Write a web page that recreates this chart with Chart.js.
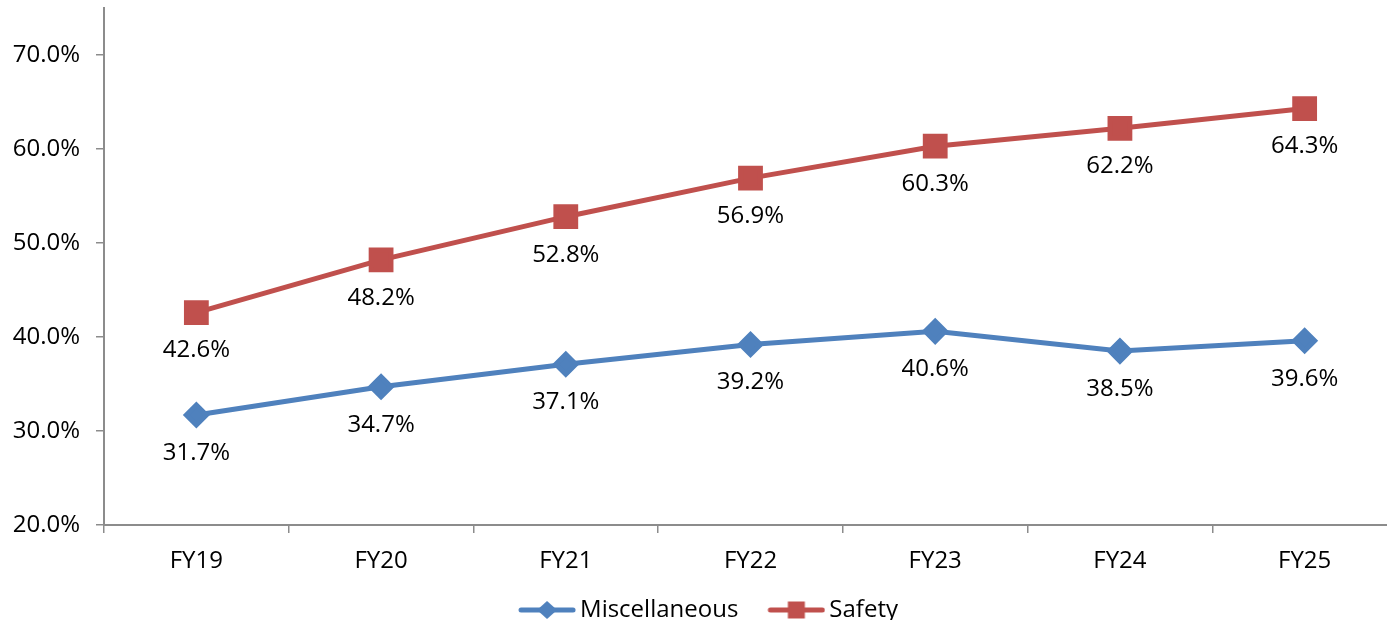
<!DOCTYPE html>
<html>
<head>
<meta charset="utf-8">
<script src="https://cdn.jsdelivr.net/npm/chart.js@4"></script>
<style>
  html, body { margin: 0; padding: 0; background: #fff; overflow: hidden; }
  #wrap { position: absolute; left: 0; top: 0; width: 1397px; height: 632px; }
</style>
</head>
<body>
<div id="wrap"><canvas id="chart"></canvas></div>
<script>
// --- dados ---
const categories = ['FY19', 'FY20', 'FY21', 'FY22', 'FY23', 'FY24', 'FY25'];
const miscValues = [31.7, 34.7, 37.1, 39.2, 40.6, 38.5, 39.6];
const safetyValues = [42.6, 48.2, 52.8, 56.9, 60.3, 62.2, 64.3];
const seriesNames = ['Miscellaneous', 'Safety'];

const BLUE = '#4F81BD';
const RED = '#C0504D';
const AXIS = '#8C8C8C';

Chart.defaults.font.family = "'Open Sans', sans-serif";
Chart.defaults.font.size = 24;
Chart.defaults.color = '#000';

// ícone da legenda: linha + marcador (margem transparente à esquerda)
const ICON_PAD = 27;
function legendIcon(color, shape) {
    const c = document.createElement('canvas');
    c.width = 58 + ICON_PAD; c.height = 22;
    const g = c.getContext('2d');
    g.translate(ICON_PAD, 0);
    g.strokeStyle = color;
    g.lineWidth = 5;
    g.lineCap = 'round';
    g.beginPath();
    g.moveTo(3, 11); g.lineTo(55, 11);
    g.stroke();
    g.fillStyle = color;
    g.beginPath();
    if (shape === 'diamond') {
        g.moveTo(29, 2); g.lineTo(39, 11); g.lineTo(29, 20); g.lineTo(19, 11);
        g.closePath();
    } else {
        g.rect(20.5, 2.5, 17, 17);
    }
    g.fill();
    return c;
}
const icons = [legendIcon(BLUE, 'diamond'), legendIcon(RED, 'square')];

// rótulos de dados abaixo dos pontos
const valueLabels = {
    id: 'valueLabels',
    afterDatasetsDraw(chart) {
        const ctx = chart.ctx;
        ctx.save();
        ctx.font = "24px 'Open Sans', sans-serif";
        ctx.fillStyle = '#000';
        ctx.textAlign = 'center';
        ctx.textBaseline = 'middle';
        chart.data.datasets.forEach((ds, i) => {
            chart.getDatasetMeta(i).data.forEach((pt, j) => {
                ctx.fillText(ds.data[j].toFixed(1) + '%', pt.x, pt.y + 38);
            });
        });
        ctx.restore();
    }
};

new Chart(document.getElementById('chart'), {
    type: 'line',
    data: {
        labels: categories,
        datasets: [{
            label: seriesNames[0],
            data: miscValues,
            borderColor: BLUE,
            backgroundColor: BLUE,
            borderWidth: 5,
            pointStyle: 'rectRot',
            pointRadius: 10,
            pointHoverRadius: 10,
            pointBackgroundColor: BLUE,
            pointBorderColor: BLUE,
            tension: 0
        }, {
            label: seriesNames[1],
            data: safetyValues,
            borderColor: RED,
            backgroundColor: RED,
            borderWidth: 5,
            pointStyle: 'rect',
            pointRadius: 14,
            pointHoverRadius: 14,
            pointBackgroundColor: RED,
            pointBorderColor: RED,
            tension: 0
        }]
    },
    options: {
        responsive: true,
        maintainAspectRatio: false,
        animation: false,
        layout: { autoPadding: false, padding: { top: 8, right: 0, bottom: 0, left: 0 } },
        plugins: {
            tooltip: { enabled: false },
            legend: {
                position: 'bottom',
                labels: {
                    usePointStyle: true,
                    pointStyleWidth: 58 + ICON_PAD - 16,
                    padding: 10,
                    generateLabels: (chart) => chart.data.datasets.map((ds, i) => ({
                        text: ds.label,
                        pointStyle: icons[i],
                        fillStyle: ds.borderColor,
                        strokeStyle: ds.borderColor,
                        lineWidth: 0,
                        hidden: false,
                        datasetIndex: i
                    }))
                }
            }
        },
        scales: {
            x: {
                offset: true,
                afterFit: (s) => { s.height = 63; s.paddingLeft = 0; s.paddingRight = 0; },
                grid: {
                    offset: true,
                    drawOnChartArea: false,
                    color: AXIS,
                    lineWidth: 1.5,
                    tickLength: 8
                },
                border: { color: AXIS, width: 2 },
                ticks: { padding: 14 }
            },
            y: {
                min: 20,
                max: 75,
                afterFit: (s) => { s.width = 104; s.paddingTop = 0; s.paddingBottom = 0; },
                grid: {
                    drawOnChartArea: false,
                    color: AXIS,
                    lineWidth: 1.5,
                    tickLength: 8
                },
                border: { color: AXIS, width: 2 },
                ticks: {
                    stepSize: 10,
                    includeBounds: false,
                    padding: 16,
                    callback: (v) => v.toFixed(1) + '%'
                }
            }
        }
    },
    plugins: [valueLabels]
});
</script>
</body>
</html>
